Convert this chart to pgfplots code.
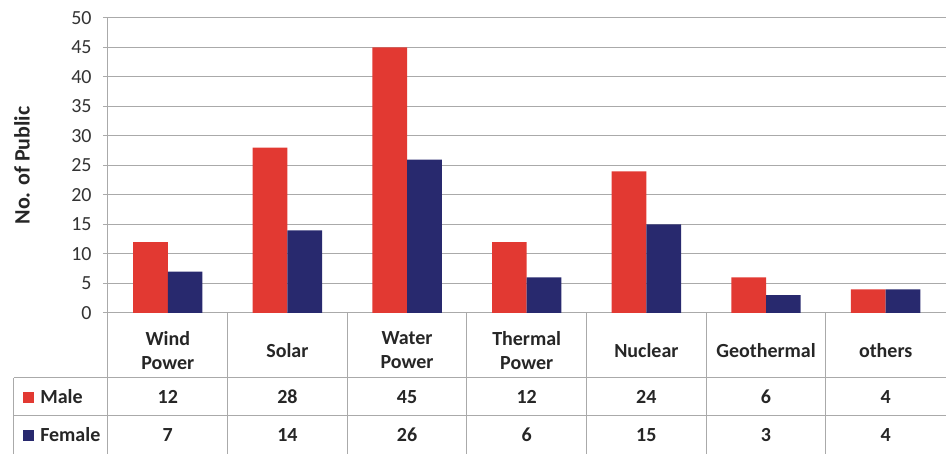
\documentclass[border=0pt]{standalone}
\usepackage{pgfplots}
\pgfplotsset{compat=1.18}
\usepackage{pgfplotstable}
\usepackage{fontspec}
\setmainfont{Carlito}
\definecolor{maleRed}{RGB}{226,57,50}
\definecolor{femBlue}{RGB}{40,41,110}
\definecolor{gridGray}{RGB}{170,170,170}
\pgfplotstableread{
x male female
0 12 7
1 28 14
2 45 26
3 12 6
4 24 15
5 6 3
6 4 4
}\data
\begin{document}
\begin{tikzpicture}
\begin{axis}[
  scale only axis, width=628.5pt, height=221.25pt,
  ybar=0pt, bar width=0.29,
  xmin=-0.5, xmax=6.5, ymin=0, ymax=50,
  ytick distance=5,
  xtick=data,
  xticklabels={{Wind\\Power},Solar,{Water\\Power},{Thermal\\Power},Nuclear,Geothermal,others},
  xticklabel style={anchor=center, align=center, yshift=-24.4pt, font=\fontsize{15}{18}\selectfont\bfseries, text=black!85},
  yticklabel style={font=\fontsize{15}{18}\selectfont, text=black!80, xshift=-5pt},
  /pgf/number format/assume math mode=true,
  axis lines*=left,
  axis line style={draw=gridGray, line width=0.75pt, -},
  ymajorgrids, grid style={draw=gridGray, line width=0.75pt},
  tick align=outside, major tick length=3.75pt,
  ytick style={draw=gridGray, line width=0.75pt},
  xtick style={draw=none},
  every axis y label/.style={at={(axis description cs:0,0.5)}, xshift=-64.5pt, rotate=90, anchor=center, font=\fontsize{16.5}{18}\selectfont\bfseries, text=black!85},
  ylabel={No. of Public},
  clip=false,
]
\addplot[fill=maleRed, draw=none] table[x=x, y=male] {\data};
\addplot[fill=femBlue, draw=none] table[x=x, y=female] {\data};
% table grid
\foreach \v in {-0.5,0.5,1.5,2.5,3.5,4.5,5.5} {
  \edef\tmp{\noexpand\draw[gridGray, line width=0.75pt] (axis cs:\v,0) -- (axis cs:\v,-23.9);}\tmp
}
\draw[gridGray, line width=0.75pt] (axis cs:-1.285,-11.02) -- (axis cs:6.5,-11.02);
\draw[gridGray, line width=0.75pt] (axis cs:-1.285,-17.46) -- (axis cs:6.5,-17.46);
\draw[gridGray, line width=0.75pt] (axis cs:-1.285,-11.02) -- (axis cs:-1.285,-23.9);
\node[anchor=west, inner sep=0pt, font=\fontsize{15}{16.5}\selectfont\bfseries, text=black!85] at (axis cs:-1.215,-14.24) {\textcolor{maleRed}{\rule[0.5pt]{8.25pt}{8.25pt}}\hspace{5pt}Male};
\node[anchor=west, inner sep=0pt, font=\fontsize{15}{16.5}\selectfont\bfseries, text=black!85] at (axis cs:-1.215,-20.68) {\textcolor{femBlue}{\rule[0.5pt]{8.25pt}{8.25pt}}\hspace{5pt}Female};
\foreach \x/\m/\f in {0/12/7,1/28/14,2/45/26,3/12/6,4/24/15,5/6/3,6/4/4} {
  \edef\tmp{\noexpand\node[font=\noexpand\fontsize{15}{16.5}\noexpand\selectfont\noexpand\bfseries, text=black!85] at (axis cs:\x,-14.24) {\m};
  \noexpand\node[font=\noexpand\fontsize{15}{16.5}\noexpand\selectfont\noexpand\bfseries, text=black!85] at (axis cs:\x,-20.68) {\f};}\tmp
}
\path (axis cs:-1.402,53.05) rectangle (axis cs:6.5,-23.9);
\end{axis}
\end{tikzpicture}
\end{document}
